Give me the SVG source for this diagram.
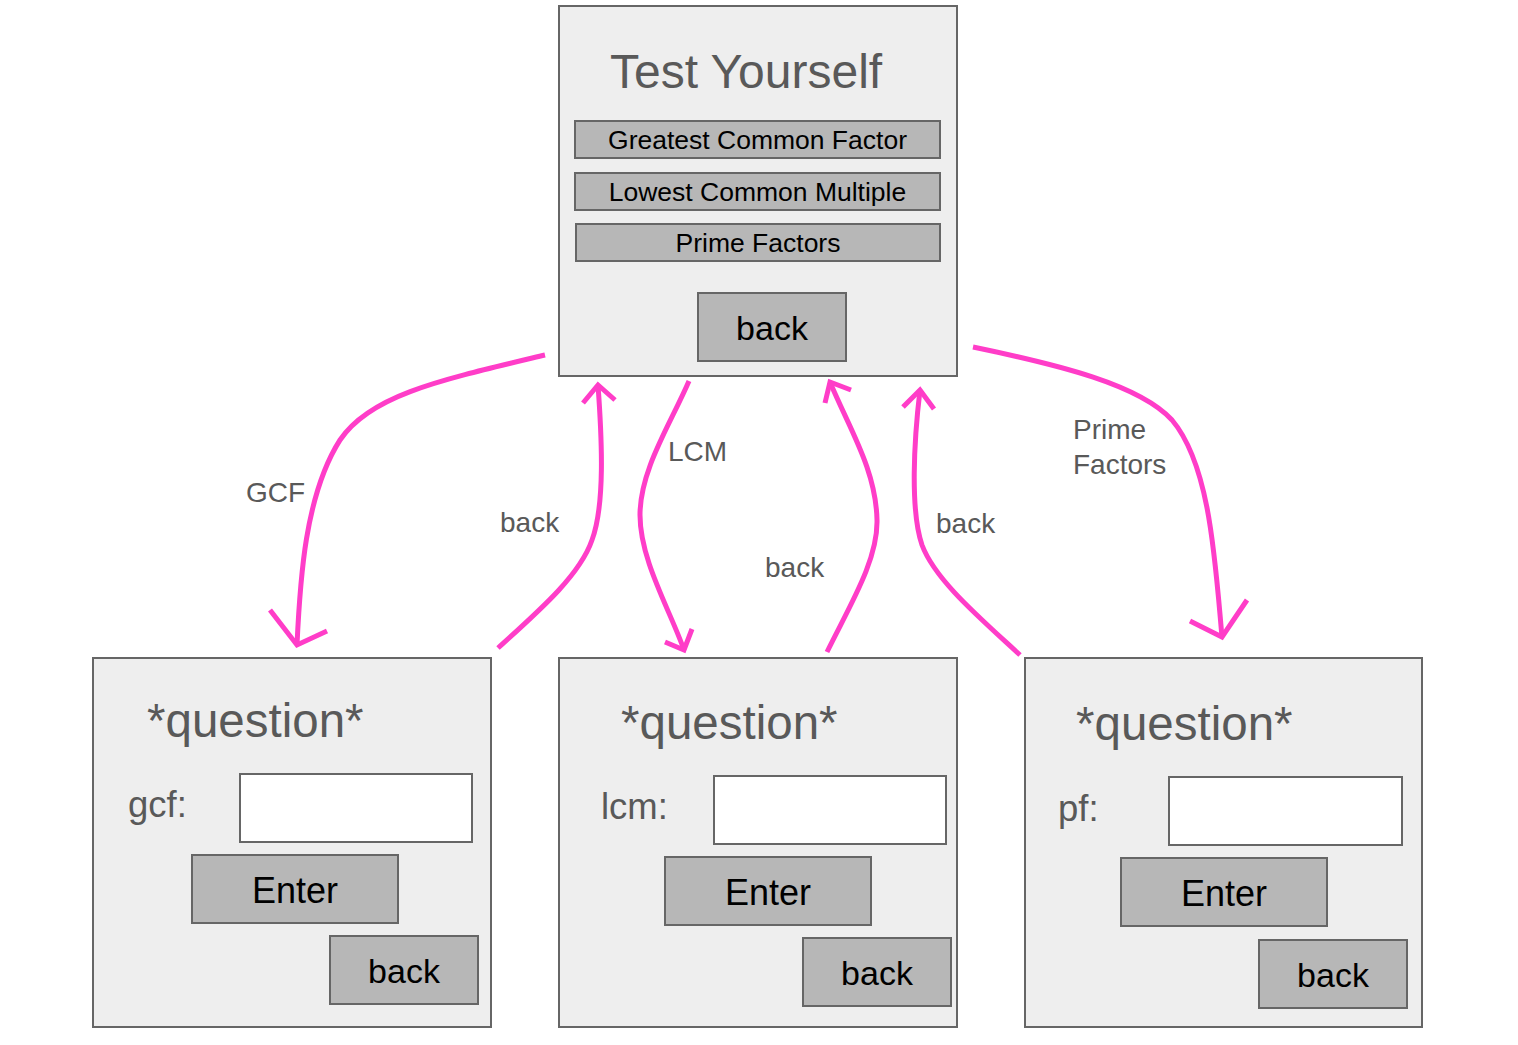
<svg xmlns="http://www.w3.org/2000/svg" width="1518" height="1045" viewBox="0 0 1518 1045">
<style>
.frame{fill:#eeeeee;stroke:#666666;stroke-width:2}
.btn{fill:#b7b7b7;stroke:#666666;stroke-width:2}
.inp{fill:#ffffff;stroke:#666666;stroke-width:2}
.t{font-family:"Liberation Sans",Arial,sans-serif}
.title{fill:#595959;font-size:48px}
.q{fill:#595959;font-size:47.5px}
.lab{fill:#595959;font-size:36.5px}
.bt{fill:#000000;text-anchor:middle}
.conn{fill:none;stroke:#ff3dc8;stroke-width:5;stroke-linecap:butt;stroke-linejoin:miter}
.cl{fill:#595959;font-size:28px}
</style>
<rect width="1518" height="1045" fill="#ffffff"/>
<g id="connectors">
<path class="conn" d="M545,355 C440,380 370,395 340,440 C305,495 300,580 297,645"/>
<polyline class="conn" points="270,610 297,645 327,631"/>
<path class="conn" d="M498,648 C540,610 580,575 592,540 C605,505 602,440 598,385"/>
<polyline class="conn" points="583,403 598,385 615,400"/>
<path class="conn" d="M689,381 C670,425 640,470 640,515 C640,560 670,610 684,650"/>
<polyline class="conn" points="665,642 684,650 692,629"/>
<path class="conn" d="M827,652 C850,605 878,560 877,520 C876,470 850,430 830,382"/>
<polyline class="conn" points="825,403 830,382 851,390"/>
<path class="conn" d="M1020,655 C980,618 935,580 922,545 C910,510 914,440 920,390"/>
<polyline class="conn" points="903,407 920,390 934,409"/>
<path class="conn" d="M973,347 C1060,365 1140,385 1172,420 C1210,465 1215,560 1222,637"/>
<polyline class="conn" points="1190,621 1222,637 1247,600"/>
<text class="t cl" x="246" y="502">GCF</text>
<text class="t cl" x="500" y="532">back</text>
<text class="t cl" x="668" y="461">LCM</text>
<text class="t cl" x="765" y="577">back</text>
<text class="t cl" x="936" y="533">back</text>
<text class="t cl" x="1073" y="439">Prime</text>
<text class="t cl" x="1073" y="474">Factors</text>
</g>
<g id="test-yourself">
<rect class="frame" x="559" y="6" width="398" height="370"/>
<text class="t title" x="610" y="88">Test Yourself</text>
<rect class="btn" x="575" y="121" width="365" height="37"/>
<text class="t bt" x="757.5" y="149" font-size="26.5">Greatest Common Factor</text>
<rect class="btn" x="575" y="173" width="365" height="37"/>
<text class="t bt" x="757.5" y="201" font-size="26.5">Lowest Common Multiple</text>
<rect class="btn" x="576" y="224" width="364" height="37"/>
<text class="t bt" x="758" y="252" font-size="26.5">Prime Factors</text>
<rect class="btn" x="698" y="293" width="148" height="68"/>
<text class="t bt" x="772" y="340" font-size="34">back</text>
</g>
<g id="gcf-question">
<rect class="frame" x="93" y="658" width="398" height="369"/>
<text class="t q" x="147" y="737">*question*</text>
<text class="t lab" x="128" y="817">gcf:</text>
<rect class="inp" x="240" y="774" width="232" height="68"/>
<rect class="btn" x="192" y="855" width="206" height="68"/>
<text class="t bt" x="295" y="903" font-size="36">Enter</text>
<rect class="btn" x="330" y="936" width="148" height="68"/>
<text class="t bt" x="404" y="983" font-size="34">back</text>
</g>
<g id="lcm-question">
<rect class="frame" x="559" y="658" width="398" height="369"/>
<text class="t q" x="621" y="739">*question*</text>
<text class="t lab" x="601" y="819">lcm:</text>
<rect class="inp" x="714" y="776" width="232" height="68"/>
<rect class="btn" x="665" y="857" width="206" height="68"/>
<text class="t bt" x="768" y="905" font-size="36">Enter</text>
<rect class="btn" x="803" y="938" width="148" height="68"/>
<text class="t bt" x="877" y="985" font-size="34">back</text>
</g>
<g id="pf-question">
<rect class="frame" x="1025" y="658" width="397" height="369"/>
<text class="t q" x="1076" y="740">*question*</text>
<text class="t lab" x="1058" y="821">pf:</text>
<rect class="inp" x="1169" y="777" width="233" height="68"/>
<rect class="btn" x="1121" y="858" width="206" height="68"/>
<text class="t bt" x="1224" y="906" font-size="36">Enter</text>
<rect class="btn" x="1259" y="940" width="148" height="68"/>
<text class="t bt" x="1333" y="987" font-size="34">back</text>
</g>
</svg>
